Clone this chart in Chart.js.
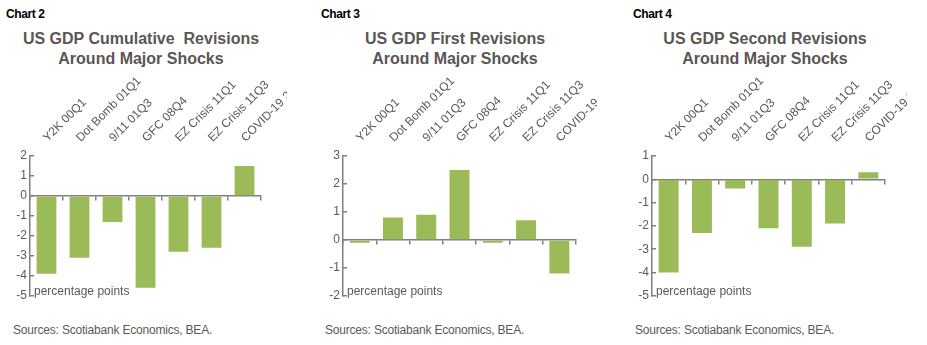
<!DOCTYPE html>
<html>
<head>
<meta charset="utf-8">
<script src="https://cdn.jsdelivr.net/npm/chart.js@4"></script>
<style>
  body { margin: 0; width: 927px; height: 345px; background: #fff; position: relative; overflow: hidden;
         font-family: "Liberation Sans", Arial, sans-serif; }
  .tag { position: absolute; top: 7px; font-weight: bold; font-size: 12px; color: #000; letter-spacing: -0.4px; }
  .title { position: absolute; top: 29px; width: 300px; text-align: center; font-weight: bold;
           font-size: 16px; line-height: 20px; color: #5a5654; }
  .src { position: absolute; top: 323px; font-size: 12px; color: #595959; white-space: nowrap; letter-spacing: -0.2px; }
  canvas { position: absolute; top: 66px; }
</style>
</head>
<body>
<div class="tag" style="left:6px">Chart 2</div>
<div class="title" style="left:-9px">US GDP Cumulative&nbsp; Revisions<br>Around Major Shocks</div>
<canvas id="chart2" width="287" height="244" style="left:0px"></canvas>
<div class="src" style="left:13px">Sources: Scotiabank Economics, BEA.</div>

<div class="tag" style="left:321px">Chart 3</div>
<div class="title" style="left:305px">US GDP First Revisions<br>Around Major Shocks</div>
<canvas id="chart3" width="287" height="244" style="left:310px"></canvas>
<div class="src" style="left:325px">Sources: Scotiabank Economics, BEA.</div>

<div class="tag" style="left:633px">Chart 4</div>
<div class="title" style="left:615px">US GDP Second Revisions<br>Around Major Shocks</div>
<canvas id="chart4" width="290" height="244" style="left:617px"></canvas>
<div class="src" style="left:635px">Sources: Scotiabank Economics, BEA.</div>

<script>
const categories = ["Y2K 00Q1", "Dot Bomb 01Q1", "9/11 01Q3", "GFC 08Q4", "EZ Crisis 11Q1", "EZ Crisis 11Q3", "COVID-19 20Q1"];

// revisions to real GDP growth, percentage points
const cumulativeRevisions = [-3.9, -3.1, -1.3, -4.6, -2.8, -2.6, 1.5];
const firstRevisions = [-0.1, 0.8, 0.9, 2.5, -0.1, 0.7, -1.2];
const secondRevisions = [-4.0, -2.3, -0.4, -2.1, -2.9, -1.9, 0.3];

const cumulativeTicks = [2, 1, 0, -1, -2, -3, -4, -5];
const firstTicks = [3, 2, 1, 0, -1, -2];
const secondTicks = [1, 0, -1, -2, -3, -4, -5];

const GREEN = "#9bbb59";
const AXIS = "#808080";
const LABEL = "#595959";

Chart.defaults.font.family = '"Liberation Sans", Arial, sans-serif';
Chart.defaults.font.size = 12;
Chart.defaults.color = LABEL;

// units note in the lower left corner of the plot
const unitsNote = {
  id: "unitsNote",
  afterDraw(chart) {
    const { ctx, chartArea } = chart;
    ctx.save();
    ctx.font = '12px "Liberation Sans", Arial, sans-serif';
    ctx.fillStyle = LABEL;
    ctx.textBaseline = "middle";
    ctx.fillText("percentage points", chartArea.left + 4, chartArea.bottom - 4);
    ctx.restore();
  }
};

function drawPanel(id, values, ticks, axisWidth, padRight) {
  new Chart(document.getElementById(id), {
    type: "bar",
    data: {
      labels: categories,
      datasets: [{
        data: values,
        backgroundColor: GREEN,
        barPercentage: 0.6,
        categoryPercentage: 1,
        xAxisID: "x",
        yAxisID: "y",
      }],
    },
    options: {
      responsive: false,
      animation: false,
      layout: { padding: { left: 0, right: padRight, top: 0, bottom: 10 } },
      plugins: { legend: { display: false }, tooltip: { enabled: false } },
      scales: {
        y: {
          min: Math.min(...ticks),
          max: Math.max(...ticks),
          afterBuildTicks: s => { s.ticks = ticks.map(v => ({ value: v })); },
          afterFit: s => { s.width = axisWidth; },
          border: { color: AXIS, width: 1.5 },
          grid: { drawOnChartArea: false, tickLength: -4, color: AXIS, lineWidth: 1.5 },
          ticks: { padding: 7, callback: v => String(v) },
        },
        // axis line through zero with marks between categories
        x: {
          type: "category",
          offset: true,
          position: { y: 0 },
          z: 1,
          grid: { offset: true, drawOnChartArea: false, tickLength: 4, color: AXIS, lineWidth: 1.5 },
          border: { color: AXIS, width: 1.5 },
          ticks: { display: false },
        },
        // category names above the plot
        xLabels: {
          type: "category",
          offset: true,
          position: "top",
          grid: { display: false, drawTicks: false },
          border: { display: false },
          ticks: { minRotation: 45, maxRotation: 45, autoSkip: false, padding: 11, labelOffset: 9 },
          afterFit: s => { s.height = 90; s.paddingLeft = 0; s.paddingRight = 0; },
        },
      },
    },
    plugins: [unitsNote],
  });
}

drawPanel("chart2", cumulativeRevisions, cumulativeTicks, 30, 26);
drawPanel("chart3", firstRevisions, firstTicks, 33, 21);
drawPanel("chart4", secondRevisions, secondTicks, 35, 22);
</script>
</body>
</html>
